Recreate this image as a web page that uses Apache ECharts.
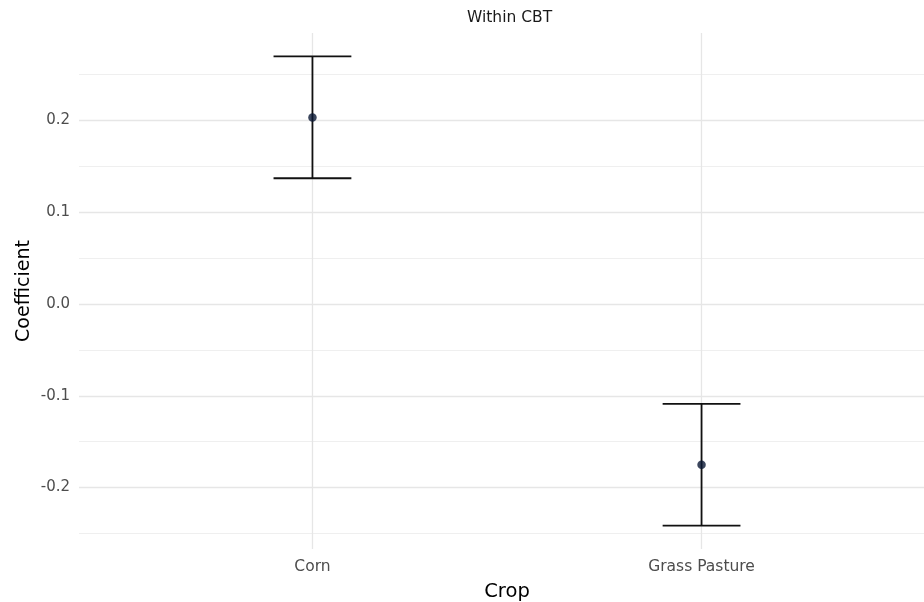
<!DOCTYPE html>
<html>
<head>
<meta charset="utf-8">
<script src="https://cdn.jsdelivr.net/npm/echarts@6/dist/echarts.min.js"></script>
<style>
html,body{margin:0;padding:0;background:#fff;}
#chart{width:924px;height:602px;}
</style>
</head>
<body>
<div id="chart"></div>
<script>
// ---- data ----
const panelTitle = "Within CBT";
const categories = ["Corn", "Grass Pasture"];
const estimates = [0.2033, -0.1751];
const lowerCI = [0.1370, -0.2414];
const upperCI = [0.2697, -0.1089];
const yTickValues = [-0.2, -0.1, 0.0, 0.1, 0.2];
const yMinorValues = [-0.25, -0.15, -0.05, 0.05, 0.15, 0.25];
const xTickValues = [0, 1];

// ggplot-like expansion: 5% of data range for y, 0.6 units for discrete x
const lo = Math.min(...lowerCI), hi = Math.max(...upperCI);
const pad = (hi - lo) * 0.05;
const yMin = lo - pad, yMax = hi + pad;
const capHalf = 0.1;

const errData = categories.map((c, i) => [i, lowerCI[i], upperCI[i]]);
const ptData = categories.map((c, i) => [i, estimates[i]]);

const chart = echarts.init(document.getElementById('chart'), null, {renderer: 'canvas'});
const font = 'DejaVu Sans, Liberation Sans, Arial, sans-serif';

chart.setOption({
  animation: false,
  backgroundColor: '#ffffff',
  title: {
    text: panelTitle,
    left: 462, top: 5,
    textStyle: {fontFamily: font, fontSize: 15.5, fontWeight: 'normal', color: '#1a1a1a'}
  },
  grid: {left: 79, width: 856, top: 33, height: 516, containLabel: false, outerBoundsMode: 'none'},
  xAxis: {
    type: 'value', min: -0.6, max: 1.6,
    name: 'Crop', nameLocation: 'middle', nameGap: 33, nameMoveOverlap: false,
    nameTextStyle: {fontFamily: font, fontSize: 19.5, color: '#000'},
    axisLine: {show: false},
    axisTick: {show: false, customValues: xTickValues},
    axisLabel: {
      customValues: xTickValues, margin: 10,
      fontFamily: font, fontSize: 15.5, color: '#4d4d4d',
      formatter: v => categories[Math.round(v)] || ''
    },
    splitLine: {show: true, lineStyle: {color: '#e6e6e6', width: 1.3}}
  },
  yAxis: [{
    type: 'value', min: yMin, max: yMax,
    name: 'Coefficient', nameLocation: 'middle', nameGap: 45, nameMoveOverlap: false,
    nameTextStyle: {fontFamily: font, fontSize: 19, color: '#000'},
    axisLine: {show: false},
    axisTick: {show: false, customValues: yTickValues},
    axisLabel: {
      customValues: yTickValues, margin: 9,
      fontFamily: font, fontSize: 15, color: '#4d4d4d',
      formatter: v => v.toFixed(1)
    },
    splitLine: {show: true, lineStyle: {color: '#e6e6e6', width: 1.3}}
  }, {
    type: 'value', min: yMin, max: yMax, position: 'left',
    axisLine: {show: false},
    axisTick: {show: false, customValues: yMinorValues},
    axisLabel: {show: false, customValues: yMinorValues},
    splitLine: {show: true, lineStyle: {color: '#efefef', width: 1}}
  }],
  series: [{
    type: 'custom',
    yAxisIndex: 0,
    data: errData,
    encode: {x: 0, y: [1, 2]},
    renderItem: function (params, api) {
      const x = api.value(0);
      const l = api.value(1), u = api.value(2);
      const pLo = api.coord([x, l]);
      const pHi = api.coord([x, u]);
      const pL = api.coord([x - capHalf, l])[0];
      const pR = api.coord([x + capHalf, l])[0];
      const st = {stroke: '#111111', lineWidth: 1.8};
      return {
        type: 'group',
        children: [
          {type: 'line', shape: {x1: pHi[0], y1: pHi[1], x2: pLo[0], y2: pLo[1]}, style: st},
          {type: 'line', shape: {x1: pL, y1: pHi[1], x2: pR, y2: pHi[1]}, style: st},
          {type: 'line', shape: {x1: pL, y1: pLo[1], x2: pR, y2: pLo[1]}, style: st}
        ]
      };
    },
    z: 2
  }, {
    type: 'scatter',
    yAxisIndex: 0,
    data: ptData,
    symbol: 'circle',
    symbolSize: 8.5,
    itemStyle: {color: '#0a1835'},
    z: 3
  }]
});
</script>
</body>
</html>
